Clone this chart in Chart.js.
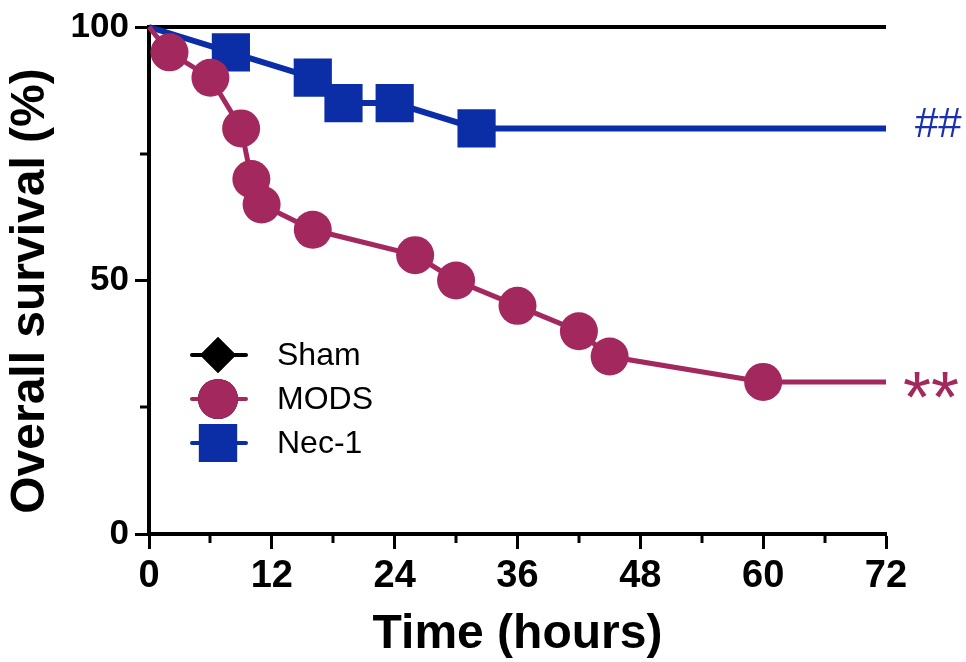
<!DOCTYPE html>
<html>
<head>
<meta charset="utf-8">
<script src="https://cdn.jsdelivr.net/npm/chart.js@4.4.1/dist/chart.umd.min.js"></script>
<style>
  body { margin: 0; background: #fff; }
  canvas { display: block; }
</style>
</head>
<body>
<canvas id="survivalChart" width="966" height="662"></canvas>
<script>
// survival data (hours, % alive)
const shamTime = [0, 72];
const shamSurv = [100, 100];
const modsTime = [0, 2, 6, 9, 10, 11, 16, 26, 30, 36, 42, 45, 60, 72];
const modsSurv = [100, 95, 90, 80, 70, 65, 60, 55, 50, 45, 40, 35, 30, 30];
const necTime = [0, 8, 16, 19, 24, 32, 72];
const necSurv = [100, 95, 90, 85, 85, 80, 80];

const xTicks = [0, 12, 24, 36, 48, 60, 72];
const xMinor = [6, 18, 30, 42, 54, 66];
const yTicks = [0, 50, 100];
const yMinor = [25, 75];

const seriesNames = ['Sham', 'MODS', 'Nec-1'];
const marks = ['##', '**']; // Nec-1 vs MODS, MODS vs Sham
const xTitle = 'Time (hours)';
const yTitle = 'Overall survival (%)';

const FONT = '"Liberation Sans", Arial, Helvetica, sans-serif';
const magenta = '#a3285e';
const blue = '#0b2ea6';

function toPoints(xs, ys) {
    return xs.map((x, i) => ({ x: x, y: ys[i] }));
}
// first point (time 0) and the censored tail get no marker
function radii(xs, r) {
    return xs.map((x, i) => (i === 0 || i === xs.length - 1) ? 0 : r);
}

const extras = {
    id: 'extras',
    afterDraw(chart) {
        const ctx = chart.ctx;
        const xs = chart.scales.x, ys = chart.scales.y;
        const area = chart.chartArea;
        ctx.save();
        // minor ticks
        ctx.strokeStyle = '#000';
        ctx.lineWidth = 3;
        xMinor.forEach(v => {
            const px = Math.round(xs.getPixelForValue(v));
            ctx.beginPath();
            ctx.moveTo(px, area.bottom);
            ctx.lineTo(px, area.bottom + 9);
            ctx.stroke();
        });
        yMinor.forEach(v => {
            const py = Math.round(ys.getPixelForValue(v));
            ctx.beginPath();
            ctx.moveTo(area.left, py);
            ctx.lineTo(area.left - 9, py);
            ctx.stroke();
        });

        // axis titles
        ctx.fillStyle = '#000';
        ctx.font = 'bold 48px ' + FONT;
        ctx.textAlign = 'center';
        ctx.textBaseline = 'middle';
        ctx.fillText(xTitle, (area.left + area.right) / 2, 635);
        ctx.save();
        ctx.translate(31, 291);
        ctx.rotate(-Math.PI / 2);
        ctx.fillText(yTitle, 0, 0);
        ctx.restore();

        // legend: line + marker + name
        const lx = area.left + 69;
        const ly = [355, 399, 443];
        chart.data.datasets.forEach((ds, i) => {
            const y = ly[i];
            ctx.strokeStyle = ds.borderColor;
            ctx.lineWidth = 4;
            ctx.lineCap = 'round';
            ctx.beginPath();
            ctx.moveTo(lx - 26, y);
            ctx.lineTo(lx + 28, y);
            ctx.stroke();
            Chart.helpers.drawPoint(ctx, {
                pointStyle: ds.pointStyle,
                radius: ds.legendRadius,
                rotation: 0,
                borderWidth: 0
            }, lx, y);
            ctx.fillStyle = ds.backgroundColor;
            ctx.fill();
            ctx.fillStyle = '#000';
            ctx.font = '32px ' + FONT;
            ctx.textAlign = 'left';
            ctx.textBaseline = 'middle';
            ctx.fillText(ds.label, 277, y + 1);
        });

        // significance marks at the end of each curve
        ctx.textAlign = 'left';
        ctx.textBaseline = 'middle';
        ctx.fillStyle = '#1a30b0';
        ctx.font = '42px ' + FONT;
        ctx.fillText(marks[0], 915, ys.getPixelForValue(necSurv[necSurv.length - 1]) - 3);
        ctx.fillStyle = magenta;
        ctx.font = '72px ' + FONT;
        ctx.fillText(marks[1], 903, ys.getPixelForValue(modsSurv[modsSurv.length - 1]) + 20);
        ctx.restore();
    }
};

const chart = new Chart(document.getElementById('survivalChart').getContext('2d'), {
    type: 'line',
    data: {
        datasets: [
            {
                label: seriesNames[0],
                data: toPoints(shamTime, shamSurv),
                borderColor: '#000',
                backgroundColor: '#000',
                borderWidth: 4,
                pointStyle: 'rectRot',
                pointRadius: 0,
                legendRadius: 18,
                order: 3
            },
            {
                label: seriesNames[1],
                data: toPoints(modsTime, modsSurv),
                borderColor: magenta,
                backgroundColor: magenta,
                borderWidth: 5,
                pointStyle: 'circle',
                pointRadius: radii(modsTime, 19),
                pointBorderWidth: 0,
                legendRadius: 20,
                order: 1
            },
            {
                label: seriesNames[2],
                data: toPoints(necTime, necSurv),
                borderColor: blue,
                backgroundColor: blue,
                borderWidth: 6,
                pointStyle: 'rect',
                pointRadius: radii(necTime, 27),
                pointBorderWidth: 0,
                legendRadius: 27,
                order: 2
            }
        ]
    },
    options: {
        responsive: false,
        animation: false,
        devicePixelRatio: 1,
        layout: { padding: { top: 27, right: 80, left: 0, bottom: 0 } },
        elements: { line: { tension: 0 } },
        datasets: { line: { clip: false } },
        plugins: {
            legend: { display: false },
            tooltip: { enabled: false }
        },
        scales: {
            x: {
                type: 'linear',
                min: 0,
                max: 72,
                afterBuildTicks: s => { s.ticks = xTicks.map(v => ({ value: v })); },
                afterFit: s => { s.height = 128; },
                grid: { drawOnChartArea: false, tickLength: 15, tickWidth: 3, tickColor: '#000' },
                border: { color: '#000', width: 4 },
                ticks: {
                    color: '#000',
                    padding: 5,
                    maxRotation: 0,
                    font: { family: FONT, size: 38, weight: 'bold' }
                }
            },
            y: {
                min: 0,
                max: 100,
                afterBuildTicks: s => { s.ticks = yTicks.map(v => ({ value: v })); },
                afterFit: s => { s.width = 149; },
                grid: { drawOnChartArea: false, tickLength: 14, tickWidth: 3, tickColor: '#000' },
                border: { color: '#000', width: 4 },
                ticks: {
                    color: '#000',
                    padding: 6,
                    font: { family: FONT, size: 35, weight: 'bold' }
                }
            }
        }
    },
    plugins: [extras]
});
</script>
</body>
</html>
